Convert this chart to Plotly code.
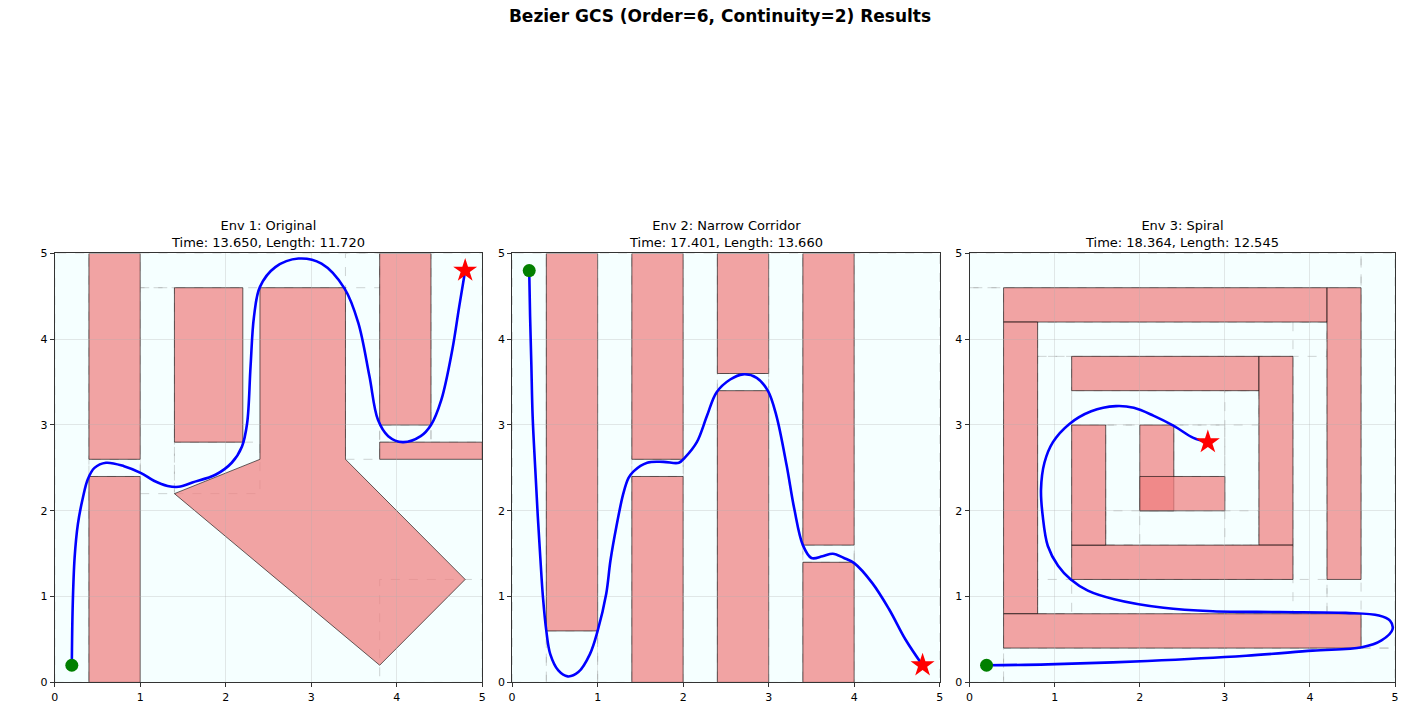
import plotly.graph_objects as go

# ---------------- data ----------------
env_titles = ["Env 1: Original", "Env 2: Narrow Corridor", "Env 3: Spiral"]
env_times = [13.650, 17.401, 18.364]
env_lengths = [11.720, 13.660, 12.545]

# obstacles: rectangles (x0, x1, y0, y1) and polygons
env1_rects = [(0.4, 1.0, 2.6, 5.0), (0.4, 1.0, 0.0, 2.4), (1.4, 2.2, 2.8, 4.6),
              (3.8, 4.4, 3.0, 5.0), (3.8, 5.0, 2.6, 2.8)]
env1_polys = [[(2.4, 4.6), (3.4, 4.6), (3.4, 2.6), (4.8, 1.2), (3.8, 0.2), (1.4, 2.2), (2.4, 2.6)]]
env2_rects = [(0.4, 1.0, 0.6, 5.0), (1.4, 2.0, 2.6, 5.0), (1.4, 2.0, 0.0, 2.4),
              (2.4, 3.0, 3.6, 5.0), (2.4, 3.0, 0.0, 3.4), (3.4, 4.0, 1.6, 5.0), (3.4, 4.0, 0.0, 1.4)]
env2_polys = []
env3_rects = [(0.4, 4.2, 4.2, 4.6), (4.2, 4.6, 1.2, 4.6), (0.4, 0.8, 0.8, 4.2), (0.4, 4.6, 0.4, 0.8),
              (1.2, 3.4, 3.4, 3.8), (3.4, 3.8, 1.6, 3.8), (1.2, 3.8, 1.2, 1.6), (1.2, 1.6, 1.6, 3.0),
              (2.0, 2.4, 2.0, 3.0), (2.0, 3.0, 2.0, 2.4)]
env3_polys = []

# free-space regions (faint dashed outlines)
env1_regions = [(0.0, 0.4, 0.0, 5.0), (0.4, 1.0, 2.4, 2.6), (1.0, 1.4, 2.2, 4.6), (1.0, 3.8, 4.6, 5.0),
                (1.4, 2.4, 2.2, 2.8), (3.8, 5.0, 0.0, 1.2), (3.4, 3.8, 2.6, 5.0), (3.8, 4.4, 2.8, 3.0),
                (4.4, 5.0, 2.8, 5.0)]
env2_regions = [(0.0, 0.4, 0.0, 5.0), (0.4, 1.0, 0.0, 0.6), (1.0, 1.4, 0.0, 5.0), (1.4, 2.0, 2.4, 2.6),
                (2.0, 2.4, 0.0, 5.0), (2.4, 3.0, 3.4, 3.6), (3.0, 3.4, 0.0, 5.0), (3.4, 4.0, 1.4, 1.6),
                (4.0, 5.0, 0.0, 5.0)]
env3_regions = [(0.0, 0.4, 0.0, 4.6), (0.0, 4.6, 4.6, 5.0), (4.6, 5.0, 0.4, 5.0), (0.4, 5.0, 0.0, 0.4),
                (0.8, 1.2, 0.8, 3.8), (0.8, 4.2, 3.8, 4.2), (3.8, 4.2, 0.8, 4.2), (0.8, 4.2, 0.8, 1.2),
                (1.2, 3.4, 3.0, 3.4), (3.0, 3.4, 1.6, 3.4), (1.6, 3.4, 1.6, 2.0), (1.6, 2.0, 1.6, 3.0),
                (2.4, 3.0, 2.4, 3.0)]

starts = [(0.2, 0.2), (0.2, 4.8), (0.2, 0.2)]
goals = [(4.8, 4.8), (4.8, 0.2), (2.8, 2.8)]

# trajectories
path1_x = [0.20, 0.21, 0.233, 0.271, 0.33, 0.388, 0.465, 0.60, 0.81, 1.01, 1.16, 1.32, 1.45, 1.61,
           1.88, 2.07, 2.19, 2.25, 2.29, 2.33, 2.40, 2.58, 2.85, 3.12, 3.39, 3.55, 3.68, 3.78, 3.90,
           4.07, 4.28, 4.40, 4.52, 4.65, 4.73, 4.80]
path1_y = [0.20, 0.876, 1.457, 1.845, 2.155, 2.37, 2.50, 2.56, 2.52, 2.44, 2.35, 2.29, 2.28, 2.33,
           2.42, 2.56, 2.75, 3.02, 3.68, 4.26, 4.61, 4.84, 4.94, 4.88, 4.59, 4.19, 3.57, 3.06, 2.87,
           2.80, 2.87, 3.00, 3.29, 3.88, 4.38, 4.80]
path2_x = [0.20, 0.21, 0.225, 0.24, 0.27, 0.30, 0.33, 0.36, 0.40, 0.446, 0.54, 0.65, 0.775, 0.91,
           1.00, 1.10, 1.15, 1.22, 1.30, 1.36, 1.42, 1.58, 1.77, 1.95, 2.02, 2.16, 2.28, 2.39, 2.55,
           2.70, 2.86, 2.99, 3.09, 3.21, 3.30, 3.40, 3.50, 3.63, 3.75, 3.88, 4.00, 4.21, 4.41, 4.60,
           4.80]
path2_y = [4.80, 4.27, 3.70, 3.10, 2.50, 1.94, 1.45, 1.00, 0.60, 0.33, 0.14, 0.07, 0.12, 0.33,
           0.60, 1.03, 1.42, 1.82, 2.20, 2.38, 2.46, 2.56, 2.57, 2.56, 2.62, 2.80, 3.11, 3.38, 3.53,
           3.59, 3.55, 3.40, 3.11, 2.53, 2.02, 1.60, 1.45, 1.47, 1.50, 1.45, 1.39, 1.16, 0.85, 0.50,
           0.20]
path3_x = [0.20, 0.92, 2.09, 3.25, 4.03, 4.61, 4.84, 4.97, 4.94, 4.81, 4.42, 3.64, 2.86, 2.28, 1.70,
           1.39, 1.19, 1.04, 0.92, 0.86, 0.84, 0.88, 0.98, 1.17, 1.43, 1.72, 1.93, 2.16, 2.40, 2.63,
           2.80]
path3_y = [0.20, 0.21, 0.25, 0.31, 0.37, 0.41, 0.49, 0.62, 0.72, 0.78, 0.81, 0.82, 0.83, 0.87, 0.97,
           1.07, 1.20, 1.36, 1.59, 1.94, 2.25, 2.56, 2.80, 3.01, 3.16, 3.22, 3.20, 3.11, 2.99, 2.85,
           2.80]

tick_vals = [0, 1, 2, 3, 4, 5]
tick_text = ["0", "1", "2", "3", "4", "5"]

envs = [
    (env1_rects, env1_polys, env1_regions, path1_x, path1_y),
    (env2_rects, env2_polys, env2_regions, path2_x, path2_y),
    (env3_rects, env3_polys, env3_regions, path3_x, path3_y),
]

# ---------------- layout geometry ----------------
W, H = 1418, 711
x_domains = [(51 / W, 481 / W), (511 / W, 941 / W), (971 / W, 1399 / W)]
y_domain = (22 / H, (711 - 252) / H)

FONT = "DejaVu Sans"
fig = go.Figure()
shapes = []
annotations = []

for i, (rects, polys, regions, px, py) in enumerate(envs):
    n = i + 1
    xa = "x" if n == 1 else f"x{n}"
    ya = "y" if n == 1 else f"y{n}"

    for (x0, x1, y0, y1) in regions:
        shapes.append(dict(type="rect", xref=xa, yref=ya, x0=x0, x1=x1, y0=y0, y1=y1,
                           line=dict(color="rgba(128,128,128,0.35)", width=1, dash="dash"),
                           fillcolor="rgba(0,0,0,0)", layer="below"))
    for (x0, x1, y0, y1) in rects:
        shapes.append(dict(type="rect", xref=xa, yref=ya, x0=x0, x1=x1, y0=y0, y1=y1,
                           line=dict(color="rgba(0,0,0,0.6)", width=1),
                           fillcolor="rgba(240,128,128,0.72)", layer="below"))
    for poly in polys:
        path = "M " + " L ".join(f"{x},{y}" for x, y in poly) + " Z"
        shapes.append(dict(type="path", xref=xa, yref=ya, path=path,
                           line=dict(color="rgba(0,0,0,0.6)", width=1),
                           fillcolor="rgba(240,128,128,0.72)", layer="below"))

    fig.add_trace(go.Scatter(x=px, y=py, mode="lines", xaxis=xa, yaxis=ya,
                             line=dict(color="#0000ff", width=2.6, shape="spline", smoothing=1.0),
                             showlegend=False, hoverinfo="skip"))
    fig.add_trace(go.Scatter(x=[starts[i][0]], y=[starts[i][1]], mode="markers", xaxis=xa, yaxis=ya,
                             marker=dict(color="#008000", size=13, symbol="circle"),
                             showlegend=False))
    fig.add_trace(go.Scatter(x=[goals[i][0]], y=[goals[i][1]], mode="markers", xaxis=xa, yaxis=ya,
                             marker=dict(color="#ff0000", size=18, symbol="star"),
                             showlegend=False))

    axis_common = dict(range=[0, 5], tickvals=tick_vals, ticktext=tick_text,
                       showgrid=True, gridcolor="rgba(176,176,176,0.3)", gridwidth=1,
                       zeroline=False, showline=True, linecolor="#333333", linewidth=1, mirror=True,
                       ticks="outside", ticklen=4, tickcolor="#333333",
                       tickfont=dict(family=FONT, size=11, color="black"), fixedrange=True)
    fig.update_layout(**{
        ("xaxis" if n == 1 else f"xaxis{n}"): dict(domain=list(x_domains[i]), anchor=ya, **axis_common),
        ("yaxis" if n == 1 else f"yaxis{n}"): dict(domain=list(y_domain), anchor=xa, **axis_common),
    })

    annotations.append(dict(
        text=f"{env_titles[i]}<br>Time: {env_times[i]:.3f}, Length: {env_lengths[i]:.3f}",
        xref="paper", yref="paper", x=(x_domains[i][0] + x_domains[i][1]) / 2, y=y_domain[1],
        xanchor="center", yanchor="bottom", yshift=1, showarrow=False,
        font=dict(family=FONT, size=13, color="black")))

fig.update_layout(
    width=W, height=H,
    margin=dict(l=0, r=0, t=0, b=0),
    paper_bgcolor="white",
    plot_bgcolor="rgb(245,255,255)",
    title=dict(text="<b>Bezier GCS (Order=6, Continuity=2) Results</b>",
               x=720 / W, xanchor="center", y=1 - 16 / H, yanchor="middle",
               font=dict(family=FONT, size=17, color="black")),
    shapes=shapes,
    annotations=annotations,
    font=dict(family=FONT),
)

fig.write_html("out.html", config={"displayModeBar": False},
               post_script="document.body.style.margin='0';document.body.style.overflow='hidden';")
